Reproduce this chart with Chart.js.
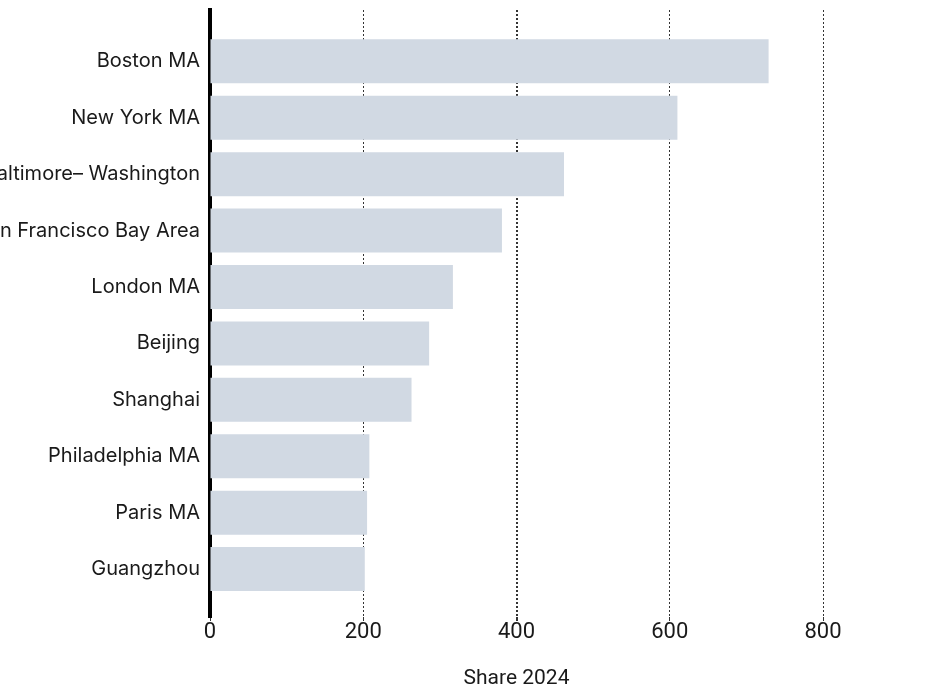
<!DOCTYPE html>
<html lang="en">
<head>
    <meta charset="UTF-8">
    <title>Share 2024</title>
    <script src="https://cdn.jsdelivr.net/npm/chart.js"></script>
    <style>
        html, body { margin: 0; padding: 0; background: #fff; }
        #wrap { width: 926px; height: 697px; }
    </style>
</head>
<body>
<div id="wrap"><canvas id="shareChart" width="926" height="697"></canvas></div>

<script>
    // data
    const cities = ['Boston MA', 'New York MA', 'Baltimore\u2013 Washington', 'San Francisco Bay Area', 'London MA',
        'Beijing', 'Shanghai', 'Philadelphia MA', 'Paris MA', 'Guangzhou'];
    const share2024 = [729, 610, 462, 381, 317, 286, 263, 208, 205, 202];
    const xTicks = [0, 200, 400, 600, 800];
    const axisTitle = 'Share 2024';

    const ctx = document.getElementById('shareChart').getContext('2d');
    const shareChart = new Chart(ctx, {
        type: 'bar',
        data: {
            datasets: [{
                label: axisTitle,
                data: share2024.map((v, i) => ({ x: v, y: i })),
                backgroundColor: '#d1d9e3',
                borderWidth: 0,
                categoryPercentage: 1,
                barPercentage: 0.78
            }]
        },
        options: {
            indexAxis: 'y',
            responsive: false,
            animation: false,
            layout: { padding: { top: 10, right: 103, left: 0, bottom: 0 } },
            plugins: {
                legend: { display: false },
                tooltip: { enabled: false }
            },
            scales: {
                x: {
                    type: 'linear',
                    min: 0,
                    max: 800,
                    afterBuildTicks: (scale) => { scale.ticks = xTicks.map(v => ({ value: v })); },
                    afterFit: (scale) => { scale.height = 80; },
                    border: { display: false, dash: [2, 2] },
                    grid: {
                        color: '#333',
                        lineWidth: (c) => c.tick && c.tick.value === 400 ? 2 : 1,
                        tickLength: 4,
                        tickColor: '#333'
                    },
                    ticks: {
                        color: '#1a1a1a',
                        padding: 0,
                        font: { family: 'Roboto', size: 22, lineHeight: 1 }
                    },
                    title: {
                        display: true,
                        text: axisTitle,
                        color: '#1a1a1a',
                        padding: { top: 0, bottom: 6 },
                        font: { family: 'Roboto', size: 21 }
                    }
                },
                y: {
                    type: 'linear',
                    offset: false,
                    reverse: true,
                    min: -0.91,
                    max: 9.85,
                    afterBuildTicks: (scale) => { scale.ticks = cities.map((c, i) => ({ value: i })); },
                    afterFit: (scale) => {
                        scale.width = 210;
                        scale.paddingTop = 0;
                        scale.paddingBottom = 0;
                    },
                    grid: { display: false, drawTicks: false, offset: false },
                    border: { display: true, color: '#000', width: 4 },
                    ticks: {
                        color: '#1a1a1a',
                        padding: 10,
                        autoSkip: false,
                        font: { family: 'Inter', size: 20 },
                        callback: (v) => cities[v]
                    }
                }
            }
        }
    });
</script>
</body>
</html>
